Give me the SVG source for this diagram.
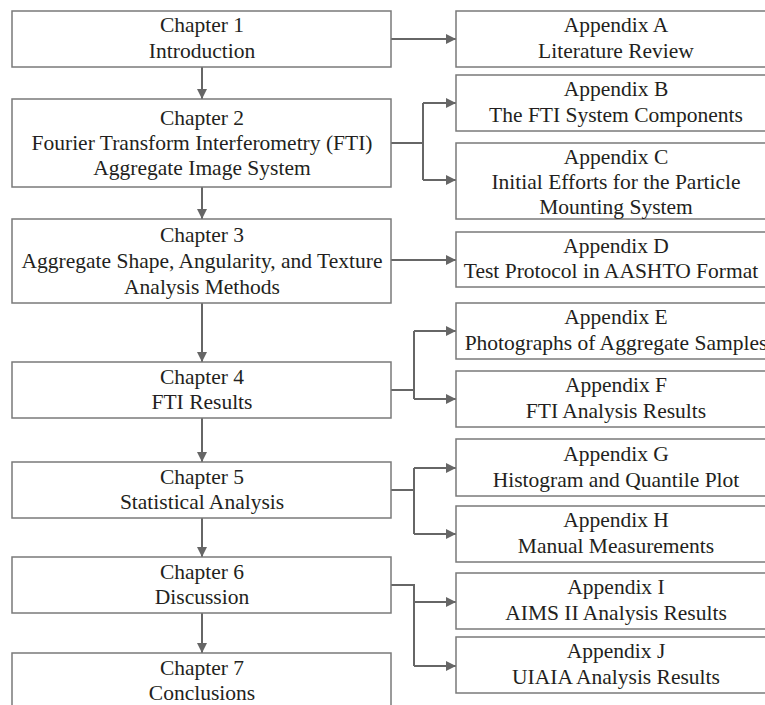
<svg xmlns="http://www.w3.org/2000/svg" width="765" height="705" viewBox="0 0 765 705">
<style>
.box{fill:#fff;stroke:#7a7a7a;stroke-width:1.5}
.t{font-family:"Liberation Serif","Times New Roman",serif;font-size:21.5px;fill:#231f20;text-anchor:middle}
.c{fill:none;stroke:#666;stroke-width:2}
</style>
<defs>
<marker id="ah" viewBox="0 0 10 10" refX="10" refY="5" markerWidth="10" markerHeight="10" markerUnits="userSpaceOnUse" orient="auto">
<path d="M0,0 L10,5 L0,10 Z" fill="#666"/>
</marker>
</defs>
<rect width="765" height="705" fill="#fff"/>
<g id="connectors">
<path class="c" d="M202,67 V99" marker-end="url(#ah)"/>
<path class="c" d="M202,187 V219" marker-end="url(#ah)"/>
<path class="c" d="M202,303 V362" marker-end="url(#ah)"/>
<path class="c" d="M202,418 V462" marker-end="url(#ah)"/>
<path class="c" d="M202,518 V557" marker-end="url(#ah)"/>
<path class="c" d="M202,613 V653" marker-end="url(#ah)"/>
<path class="c" d="M391,39 H456" marker-end="url(#ah)"/>
<path class="c" d="M391,143 H423"/>
<path class="c" d="M423,103 V180"/>
<path class="c" d="M423,103 H456" marker-end="url(#ah)"/>
<path class="c" d="M423,180 H456" marker-end="url(#ah)"/>
<path class="c" d="M391,260 H456" marker-end="url(#ah)"/>
<path class="c" d="M391,390 H414"/>
<path class="c" d="M414,331 V399"/>
<path class="c" d="M414,331 H456" marker-end="url(#ah)"/>
<path class="c" d="M414,399 H456" marker-end="url(#ah)"/>
<path class="c" d="M391,490 H414"/>
<path class="c" d="M414,468 V534"/>
<path class="c" d="M414,468 H456" marker-end="url(#ah)"/>
<path class="c" d="M414,534 H456" marker-end="url(#ah)"/>
<path class="c" d="M391,585 H414 V666"/>
<path class="c" d="M414,602 H456" marker-end="url(#ah)"/>
<path class="c" d="M414,666 H456" marker-end="url(#ah)"/>
</g>
<g id="ch1"><rect class="box" x="12" y="11" width="379" height="56"/><text class="t" x="202" y="32">Chapter 1</text><text class="t" x="202" y="58">Introduction</text></g>
<g id="ch2"><rect class="box" x="12" y="99" width="379" height="88"/><text class="t" x="202" y="125">Chapter 2</text><text class="t" x="202" y="150">Fourier Transform Interferometry (FTI)</text><text class="t" x="202" y="175">Aggregate Image System</text></g>
<g id="ch3"><rect class="box" x="12" y="219" width="379" height="84"/><text class="t" x="202" y="242">Chapter 3</text><text class="t" x="202" y="268">Aggregate Shape, Angularity, and Texture</text><text class="t" x="202" y="294">Analysis Methods</text></g>
<g id="ch4"><rect class="box" x="12" y="362" width="379" height="56"/><text class="t" x="202" y="384">Chapter 4</text><text class="t" x="202" y="409">FTI Results</text></g>
<g id="ch5"><rect class="box" x="12" y="462" width="379" height="56"/><text class="t" x="202" y="484">Chapter 5</text><text class="t" x="202" y="509">Statistical Analysis</text></g>
<g id="ch6"><rect class="box" x="12" y="557" width="379" height="56"/><text class="t" x="202" y="579">Chapter 6</text><text class="t" x="202" y="604">Discussion</text></g>
<g id="ch7"><rect class="box" x="12" y="653" width="379" height="60"/><text class="t" x="202" y="675">Chapter 7</text><text class="t" x="202" y="700">Conclusions</text></g>
<g id="appA"><rect class="box" x="456" y="11" width="320" height="56"/><text class="t" x="616" y="32">Appendix A</text><text class="t" x="616" y="58">Literature Review</text></g>
<g id="appB"><rect class="box" x="456" y="75" width="320" height="56"/><text class="t" x="616" y="96">Appendix B</text><text class="t" x="616" y="122">The FTI System Components</text></g>
<g id="appC"><rect class="box" x="456" y="143" width="320" height="76"/><text class="t" x="616" y="164">Appendix C</text><text class="t" x="616" y="189">Initial Efforts for the Particle</text><text class="t" x="616" y="214">Mounting System</text></g>
<g id="appD"><rect class="box" x="456" y="232" width="320" height="55"/><text class="t" x="616" y="253">Appendix D</text><text class="t" x="611" y="278">Test Protocol in AASHTO Format</text></g>
<g id="appE"><rect class="box" x="456" y="303" width="320" height="56"/><text class="t" x="616" y="324">Appendix E</text><text class="t" x="616" y="350">Photographs of Aggregate Samples</text></g>
<g id="appF"><rect class="box" x="456" y="371" width="320" height="56"/><text class="t" x="616" y="392">Appendix F</text><text class="t" x="616" y="418">FTI Analysis Results</text></g>
<g id="appG"><rect class="box" x="456" y="439" width="320" height="57"/><text class="t" x="616" y="461">Appendix G</text><text class="t" x="616" y="487">Histogram and Quantile Plot</text></g>
<g id="appH"><rect class="box" x="456" y="506" width="320" height="56"/><text class="t" x="616" y="527">Appendix H</text><text class="t" x="616" y="553">Manual Measurements</text></g>
<g id="appI"><rect class="box" x="456" y="573" width="320" height="56"/><text class="t" x="616" y="594">Appendix I</text><text class="t" x="616" y="620">AIMS II Analysis Results</text></g>
<g id="appJ"><rect class="box" x="456" y="637" width="320" height="56"/><text class="t" x="616" y="658">Appendix J</text><text class="t" x="616" y="684">UIAIA Analysis Results</text></g>
</svg>
